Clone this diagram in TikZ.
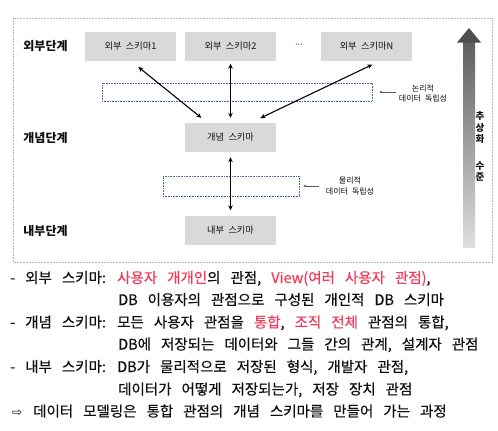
\documentclass[tikz,border=0pt]{standalone}
\usepackage{fontspec}
\newfontfamily\kr{Noto Sans CJK KR}
\newfontfamily\krm[FakeBold=0.4]{Noto Sans CJK KR}
\newfontfamily\dvs{DejaVu Sans}
\usetikzlibrary{arrows.meta}
\definecolor{hl}{RGB}{240,60,90}
\definecolor{boxgray}{RGB}{217,217,217}
\definecolor{dotblue}{RGB}{70,100,160}
\definecolor{txt}{RGB}{15,15,15}
\newcommand\boxfont{\kr\fontsize{9.2}{11}\selectfont\spaceskip=4.5pt\relax}
\newcommand\lvlfont{\kr\bfseries\fontsize{12}{14}\selectfont}
\newcommand\smallfont{\kr\fontsize{8}{10.5}\selectfont\spaceskip=4pt\relax}
\newcommand\mainfont{\krm\fontsize{14.5}{17}\selectfont\spaceskip=10pt\relax}
\newcommand\vfont{\kr\bfseries\fontsize{9.5}{11}\selectfont}
\begin{document}
\begin{tikzpicture}[x=1pt,y=-1pt,
  schema/.style={fill=boxgray, minimum width=91pt, minimum height=29pt, inner sep=0pt, font=\boxfont, text=txt},
  lvl/.style={inner sep=0pt, font=\lvlfont, text=txt},
  indep/.style={draw=dotblue, densely dotted, line width=0.6pt, inner sep=0pt},
  note/.style={inner sep=0pt, align=center, font=\smallfont, text=txt},
  dbl/.style={{Stealth[length=5pt,width=4.5pt]}-{Stealth[length=5pt,width=4.5pt]}, line width=1.1pt, black},
  sarr/.style={-{Stealth[length=3pt,width=3pt]}, line width=0.6pt, gray!70!black},
  ln/.style={anchor=base west, inner sep=0pt, font=\mainfont, text=txt},
  vch/.style={inner sep=0pt, font=\vfont, text=txt}
]
\useasboundingbox (0,0) rectangle (498,431);
\fill[white] (0,0) rectangle (498,431);
% outer frame
\draw[gray!55, densely dotted, line width=0.5pt] (13,18) rectangle (492,262);

% level labels
\node[lvl] (l1) at (45.5,46) {외부단계};
\node[lvl] (l2) at (45.5,138) {개념단계};
\node[lvl] (l3) at (45.5,231) {내부단계};

% independence rectangles
\node[indep, minimum width=270pt, minimum height=18pt] (lrect) at (237,92) {};
\node[indep, minimum width=136pt, minimum height=20pt] (prect) at (231,186) {};

% schema boxes
\node[schema] (e1) at (130.5,46) {외부 스키마1};
\node[schema] (e2) at (230.5,46) {외부 스키마2};
\node[inner sep=0pt, font=\dvs\fontsize{8}{10}\selectfont, text=txt] (dots) at (299,46) {···};
\node[schema] (eN) at (366.5,46) {외부 스키마N};
\node[schema] (c) at (230.5,137.5) {개념 스키마};
\node[schema] (i) at (230.5,230) {내부 스키마};

% connectors
\draw[dbl, shorten <=10pt, shorten >=8pt] (e1.south) -- ([xshift=-23pt]c.north);
\draw[dbl, shorten <=3pt, shorten >=5pt] (e2.south) -- (c.north);
\draw[dbl, shorten <=9pt, shorten >=11pt] ([xshift=14pt]eN.south) -- ([xshift=20pt]c.north);
\draw[dbl, shorten <=5pt, shorten >=5pt] (c.south) -- (i.north);

% independence notes
\node[note] (n1) at (423,93.5) {논리적\\데이터 독립성};
\node[note] (n2) at (350,186) {물리적\\데이터 독립성};
\draw[sarr, shorten <=3pt, shorten >=7pt] (lrect.east -| n1.west) -- (lrect.east);
\draw[sarr, shorten <=7pt, shorten >=4pt] (prect.east -| n2.west) -- (prect.east);

% abstraction arrow
\shade[top color=gray!75!black, bottom color=gray!25] (463,42) rectangle (475,247);
\fill[gray!62!black] (457,42.5) -- (469,28) -- (481,42.5) -- cycle;
\node[vch] (v1) at (480,116) {추};
\node[vch] (v2) at (480,127.5) {상};
\node[vch] (v3) at (480,139) {화};
\node[vch] (v4) at (480,166) {수};
\node[vch] (v5) at (480,177.5) {준};

% description text
\node[ln] (t1a) at (10,283) {- 외부 스키마:};
\node[ln] (t1b) at (117,283) {\textcolor{hl}{사용자 개개인}의 관점, \textcolor{hl}{View(여러 사용자 관점)},};
\node[ln] (t2) at (118,305) {DB 이용자의 관점으로 구성된 개인적 DB 스키마};
\node[ln] (t3a) at (10,327.5) {- 개념 스키마:};
\node[ln] (t3b) at (117,327.5) {모든 사용자 관점을 \textcolor{hl}{통합}, \textcolor{hl}{조직 전체} 관점의 통합,};
\node[ln] (t4) at (118,349.5) {DB에 저장되는 데이터와 그들 간의 관계, 설계자 관점};
\node[ln] (t5a) at (10,372) {- 내부 스키마:};
\node[ln] (t5b) at (117,372) {DB가 물리적으로 저장된 형식, 개발자 관점,};
\node[ln] (t6) at (118,394.5) {데이터가 어떻게 저장되는가, 저장 장치 관점};
\node[ln] (t7a) at (12,416.5) {{\dvs\fontsize{12}{14}\selectfont ⇨}};
\node[ln] (t7b) at (33,416.5) {데이터 모델링은 통합 관점의 개념 스키마를 만들어 가는 과정};
\end{tikzpicture}
\end{document}
